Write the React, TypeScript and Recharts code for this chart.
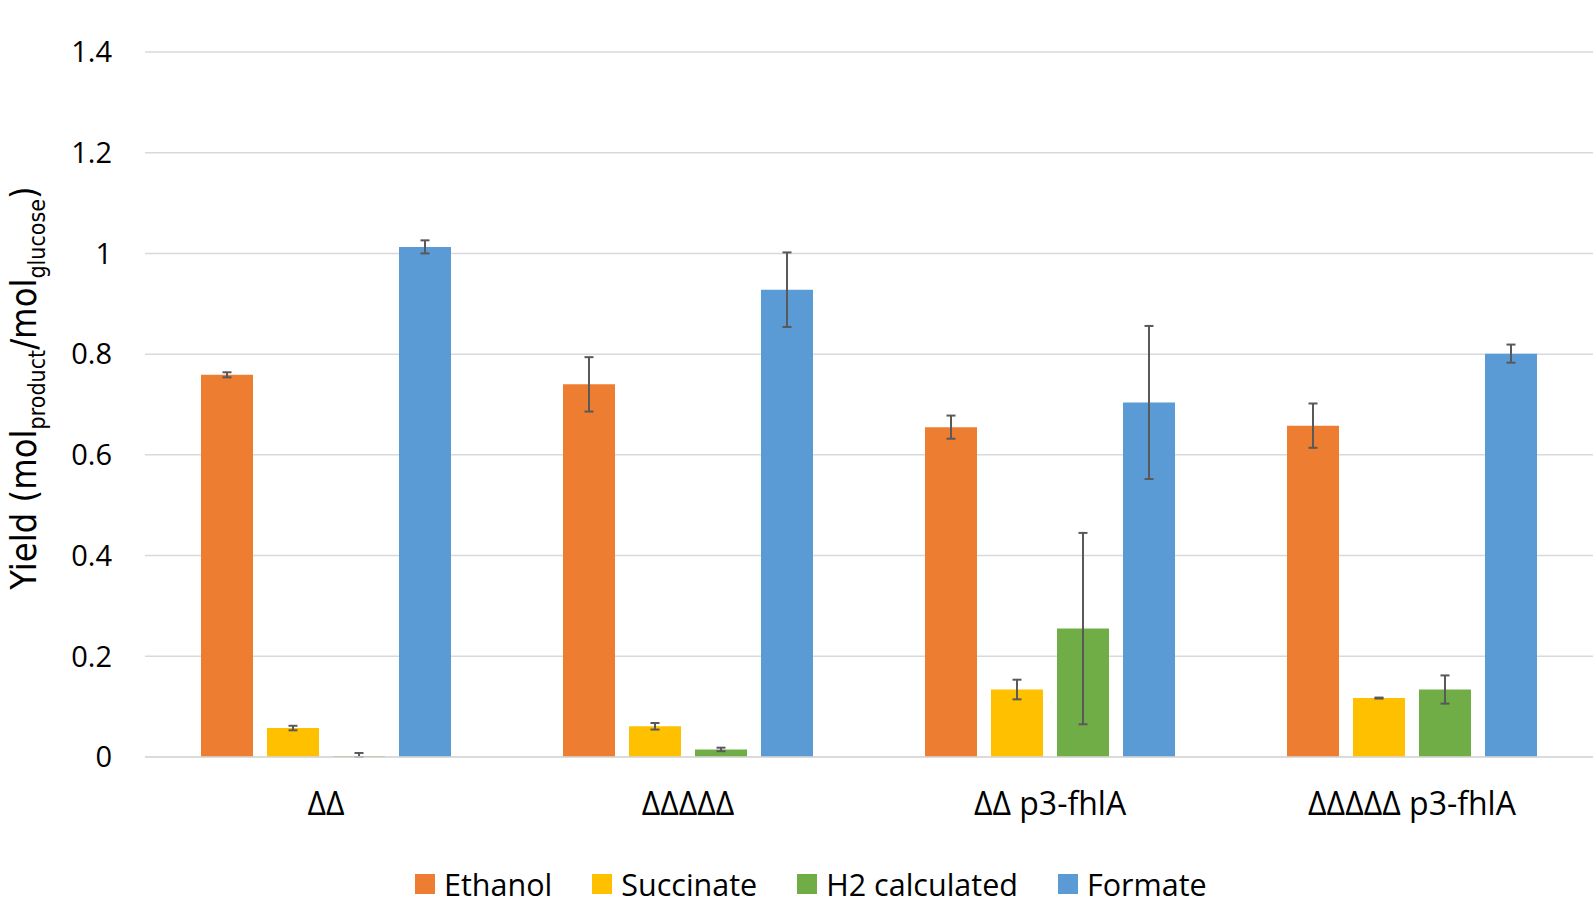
import React from 'react';
import { BarChart, Bar, XAxis, YAxis, CartesianGrid, Legend, ErrorBar } from 'recharts';

const categories = ['ΔΔ', 'ΔΔΔΔΔ', 'ΔΔ p3-fhlA', 'ΔΔΔΔΔ p3-fhlA'];
const ethanol = [0.759, 0.74, 0.655, 0.658];
const ethanolErr = [0.005, 0.054, 0.023, 0.044];
const succinate = [0.0575, 0.061, 0.134, 0.117];
const succinateErr = [0.0045, 0.0065, 0.0195, 0.001];
const h2 = [0.002, 0.015, 0.255, 0.134];
const h2Err: (number | number[])[] = [[0.002, 0.006], 0.0035, 0.19, 0.028];
const formate = [1.013, 0.928, 0.704, 0.801];
const formateErr = [0.013, 0.074, 0.152, 0.018];
const yTicks = [0, 0.2, 0.4, 0.6, 0.8, 1, 1.2, 1.4];

const seriesKeys = ['ethanol', 'succinate', 'h2', 'formate'];
const seriesNames = ['Ethanol', 'Succinate', 'H2 calculated', 'Formate'];
const seriesColors = ['#ED7D31', '#FFC000', '#70AD47', '#5B9BD5'];

const data = categories.map((c, i) => ({
  name: c,
  ethanol: ethanol[i],
  ethanolErr: ethanolErr[i],
  succinate: succinate[i],
  succinateErr: succinateErr[i],
  h2: h2[i],
  h2Err: h2Err[i],
  formate: formate[i],
  formateErr: formateErr[i],
}));

const FONT = "'Open Sans', 'Noto Sans', sans-serif";
const LABEL_FONT = "'Liberation Sans Narrow', 'DejaVu Sans Condensed', 'Open Sans', sans-serif";

const YLabel = () => (
  <text
    x={0}
    y={0}
    transform="translate(36, 388) rotate(-90)"
    textAnchor="middle"
    fontFamily={LABEL_FONT}
    fill="#000"
  >
    <tspan fontSize={36}>Yield (mol</tspan>
    <tspan fontSize={23} dy={9}>product</tspan>
    <tspan fontSize={36} dy={-9}>/mol</tspan>
    <tspan fontSize={23} dy={9}>glucose</tspan>
    <tspan fontSize={36} dy={-9}>)</tspan>
  </text>
);

const LegendContent = () => (
  <div
    style={{
      height: 46,
      display: 'flex',
      alignItems: 'center',
      paddingLeft: 415,
      fontFamily: FONT,
      fontSize: 30.5,
      color: '#000',
    }}
  >
    {seriesNames.map((n, i) => (
      <div key={n} style={{ display: 'flex', alignItems: 'center', marginRight: 40 }}>
        <div style={{ width: 20, height: 20, background: seriesColors[i], marginRight: 9 }} />
        <span>{n}</span>
      </div>
    ))}
  </div>
);

const fmt = (v: number) => String(parseFloat(v.toFixed(1)));

export default function App() {
  return (
    <div style={{ position: 'absolute', left: 0, top: 0, width: 1594, height: 907, background: '#fff' }}>
      <BarChart
        width={1594}
        height={907}
        data={data}
        margin={{ top: 52, right: 1, bottom: 0, left: 0 }}
        barCategoryGap={56}
        barGap={14}
      >
        <CartesianGrid vertical={false} stroke="#D9D9D9" strokeWidth={1.5} />
        <XAxis
          dataKey="name"
          height={104}
          tickSize={0}
          tickMargin={35}
          axisLine={{ stroke: '#D9D9D9', strokeWidth: 1.5 }}
          tickLine={false}
          tick={{ fontFamily: FONT, fontSize: 32, fill: '#000' }}
          interval={0}
        />
        <YAxis
          width={145}
          domain={[0, 1.4]}
          ticks={yTicks}
          tickFormatter={fmt}
          axisLine={false}
          tickLine={false}
          tickSize={0}
          tickMargin={33}
          tick={{ fontFamily: FONT, fontSize: 29, fill: '#000' }}
          label={<YLabel />}
        />
        <Legend verticalAlign="bottom" content={<LegendContent />} />
        {seriesKeys.map((k, i) => (
          <Bar key={k} dataKey={k} name={seriesNames[i]} fill={seriesColors[i]} isAnimationActive={false}>
            <ErrorBar dataKey={k + 'Err'} width={4.5} stroke="#595959" strokeWidth={2} isAnimationActive={false} />
          </Bar>
        ))}
      </BarChart>
    </div>
  );
}
